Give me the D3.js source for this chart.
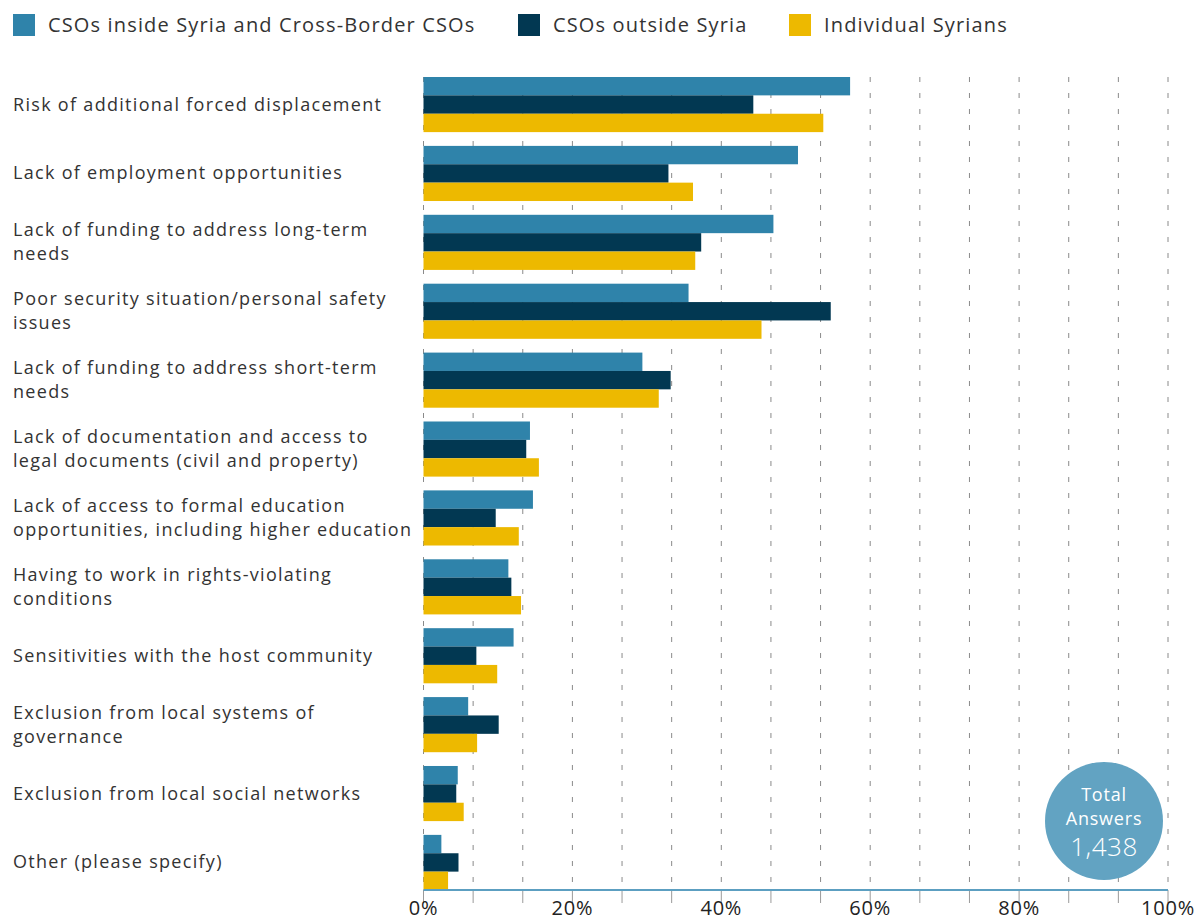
<!DOCTYPE html>
<html>
<head>
<meta charset="utf-8">
<script src="https://cdn.jsdelivr.net/npm/d3@7"></script>
<style>
  html, body { margin: 0; padding: 0; background: #fff; }
  svg { display: block; font-family: "Open Sans", "Noto Sans", sans-serif; }
</style>
</head>
<body>
<svg id="chart" width="1196" height="920"></svg>
<script>
const categories = [
  ["Risk of additional forced displacement"],
  ["Lack of employment opportunities"],
  ["Lack of funding to address long-term", "needs"],
  ["Poor security situation/personal safety", "issues"],
  ["Lack of funding to address short-term", "needs"],
  ["Lack of documentation and access to", "legal documents (civil and property)"],
  ["Lack of access to formal education", "opportunities, including higher education"],
  ["Having to work in rights-violating", "conditions"],
  ["Sensitivities with the host community"],
  ["Exclusion from local systems of", "governance"],
  ["Exclusion from local social networks"],
  ["Other (please specify)"]
];
const seriesNames = ["CSOs inside Syria and Cross-Border CSOs", "CSOs outside Syria", "Individual Syrians"];
const csosInside  = [57.3, 50.3, 47.0, 35.6, 29.4, 14.3, 14.7, 11.4, 12.1, 6.0, 4.6, 2.4];
const csosOutside = [44.3, 32.9, 37.3, 54.7, 33.2, 13.8, 9.7, 11.8, 7.1, 10.1, 4.4, 4.7];
const individuals = [53.7, 36.2, 36.5, 45.4, 31.6, 15.5, 12.8, 13.1, 9.9, 7.2, 5.4, 3.3];
const tickValues = [0, 20, 40, 60, 80, 100];
const tickLabels = ["0%", "20%", "40%", "60%", "80%", "100%"];
const totalLabel = ["Total", "Answers"];
const totalValue = "1,438";

const colors = ["#2f83aa", "#023852", "#edb900"];
const series = [csosInside, csosOutside, individuals];

const svg = d3.select("#chart");
const x = d3.scaleLinear().domain([0, 100]).range([423.5, 1168]);
const y = d3.scaleBand().domain(d3.range(categories.length)).range([77, 890]).paddingInner(0.2).paddingOuter(0);
const ySub = d3.scaleBand().domain(d3.range(3)).range([0, y.bandwidth()]);

// gridlines
const gridVals = d3.range(0, 16).map(i => i * 100 / 15);
svg.append("g").selectAll("line").data(gridVals).join("line")
  .attr("x1", d => x(d)).attr("x2", d => x(d))
  .attr("y1", 77).attr("y2", 890)
  .attr("stroke", "#8a8a8a").attr("stroke-width", 1)
  .attr("stroke-dasharray", "5,11");

// tick marks below axis
svg.append("g").selectAll("line").data(gridVals).join("line")
  .attr("x1", d => x(d)).attr("x2", d => x(d))
  .attr("y1", 890).attr("y2", 903)
  .attr("stroke", "#9a9a9a").attr("stroke-width", 1);

// bars
const gGroups = svg.append("g").selectAll("g").data(categories).join("g")
  .attr("transform", (d, i) => `translate(0,${y(i)})`);
gGroups.selectAll("rect").data((d, i) => series.map((s, k) => ({k, v: s[i]}))).join("rect")
  .attr("x", x(0))
  .attr("y", d => ySub(d.k))
  .attr("width", d => x(d.v) - x(0))
  .attr("height", ySub.bandwidth())
  .attr("fill", d => colors[d.k]);

// axis line
svg.append("line").attr("x1", x(0)).attr("x2", x(100)).attr("y1", 890).attr("y2", 890)
  .attr("stroke", "#5c9fc1").attr("stroke-width", 2);

// axis labels
svg.append("g").selectAll("text").data(tickValues).join("text")
  .attr("x", d => x(d)).attr("y", 915)
  .attr("text-anchor", "middle")
  .attr("font-size", 20).attr("letter-spacing", 0.8).attr("fill", "#222")
  .text((d, i) => tickLabels[i]);

// category labels
const labels = svg.append("g").selectAll("text").data(categories).join("text")
  .attr("font-size", 18).attr("letter-spacing", 1.3).attr("fill", "#333")
  .attr("x", 13);
labels.each(function(lines, i) {
  const cy = y(i) + y.bandwidth() / 2;
  const t = d3.select(this);
  const lh = 24;
  lines.forEach((ln, j) => {
    t.append("tspan").attr("x", 13)
      .attr("y", cy + (j - (lines.length - 1) / 2) * lh + 6)
      .text(ln);
  });
});

// legend
const legendX = [13, 518, 789];
const lg = svg.append("g").selectAll("g").data(seriesNames).join("g")
  .attr("transform", (d, i) => `translate(${legendX[i]},14)`);
lg.append("rect").attr("width", 22).attr("height", 22).attr("fill", (d, i) => colors[i]);
lg.append("text").attr("x", 35).attr("y", 18).attr("font-size", 20).attr("letter-spacing", 1.15).attr("fill", "#333").text(d => d);

// total circle
const cg = svg.append("g").attr("transform", "translate(1104,821)");
cg.append("circle").attr("r", 59).attr("fill", "#62a3c2");
cg.append("text").attr("y", -20).attr("text-anchor", "middle").attr("font-size", 18).attr("letter-spacing", 0.8).attr("fill", "#fff").text(totalLabel[0]);
cg.append("text").attr("y", 4).attr("text-anchor", "middle").attr("font-size", 18).attr("letter-spacing", 0.8).attr("fill", "#fff").text(totalLabel[1]);
cg.append("text").attr("y", 35).attr("text-anchor", "middle").attr("font-size", 26).attr("font-weight", 300).attr("letter-spacing", 0.5).attr("fill", "#fff").text(totalValue);
</script>
</body>
</html>
